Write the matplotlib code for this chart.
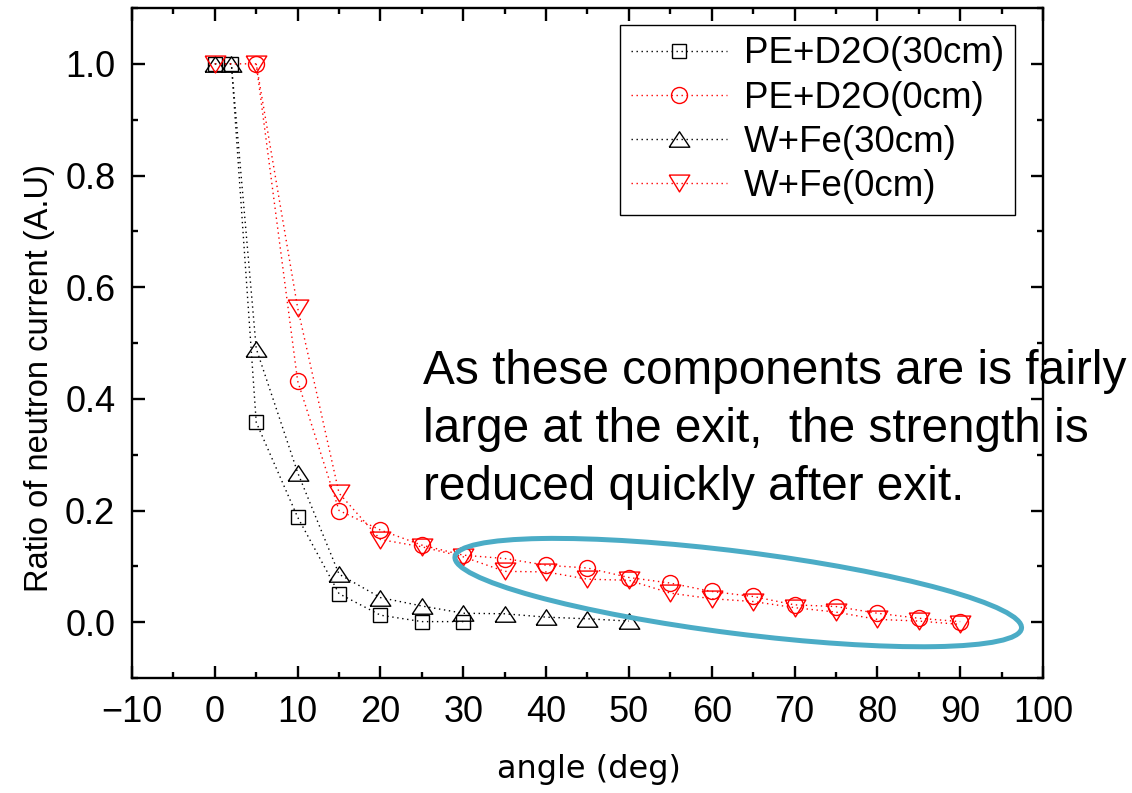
import matplotlib
matplotlib.use("Agg")
import matplotlib.pyplot as plt
import matplotlib.transforms as mtransforms
from matplotlib.patches import Ellipse
from matplotlib.ticker import MultipleLocator

# data
pe30_x = [0, 2, 5, 10, 15, 20, 25, 30]
pe30_y = [1.0, 1.0, 0.358, 0.188, 0.051, 0.0125, 0.001, 0.001]

pe0_x = [5, 10, 15, 20, 25, 30, 35, 40, 45, 50, 55, 60, 65, 70, 75, 80, 85, 90]
pe0_y = [1.0, 0.432, 0.200, 0.165, 0.138, 0.120, 0.114, 0.102, 0.097, 0.080,
         0.070, 0.055, 0.046, 0.031, 0.028, 0.016, 0.007, 0.001]

wfe30_x = [0, 2, 5, 10, 15, 20, 25, 30, 35, 40, 45, 50]
wfe30_y = [1.0, 1.0, 0.490, 0.268, 0.086, 0.044, 0.029, 0.016, 0.015, 0.009,
           0.006, 0.002]

wfe0_x = [0, 5, 10, 15, 20, 25, 30, 35, 40, 45, 50, 55, 60, 65, 70, 75, 80, 85, 90]
wfe0_y = [1.0, 1.0, 0.563, 0.231, 0.148, 0.135, 0.117, 0.091, 0.090, 0.077,
          0.075, 0.052, 0.042, 0.037, 0.026, 0.018, 0.005, 0.002, -0.004]

labels = ["PE+D2O(30cm)", "PE+D2O(0cm)", "W+Fe(30cm)", "W+Fe(0cm)"]
note = ("As these components are is fairly\n"
        "large at the exit,  the strength is\n"
        "reduced quickly after exit.")

# highlighted region (centre in data units, size in pixels)
ell_center = (63.2, 0.053)
ell_size = (571, 82)
ell_angle = -7.2

plt.rcParams['font.family'] = ['Liberation Sans', 'DejaVu Sans']

fig = plt.figure(figsize=(11.32, 7.93), dpi=100)
ax = fig.add_axes([132 / 1132, 1 - 678 / 793, 911 / 1132, 670 / 793])

up_tri = [(-1, -0.75), (1, -0.75), (0, 0.75), (-1, -0.75)]
down_tri = [(-1, 0.82), (1, 0.82), (0, -0.82), (-1, 0.82)]
dots = (0, (1, 2.6))

common = dict(linestyle=dots, lw=1.0, mfc='none', mew=1.0)
ax.plot(pe30_x, pe30_y, color='black', marker='s', ms=10, label=labels[0], **common)
ax.plot(pe0_x, pe0_y, color='red', marker='o', ms=11.5, label=labels[1], **common)
ax.plot(wfe30_x, wfe30_y, color='black', marker=up_tri, ms=14.8, label=labels[2], **common)
ax.plot(wfe0_x, wfe0_y, color='red', marker=down_tri, ms=14.8, label=labels[3], **common)

ax.set_xlim(-10, 100)
ax.set_ylim(-0.1, 1.1)
ax.xaxis.set_major_locator(MultipleLocator(10))
ax.xaxis.set_minor_locator(MultipleLocator(5))
ax.yaxis.set_major_locator(MultipleLocator(0.2))
ax.yaxis.set_minor_locator(MultipleLocator(0.1))
ax.tick_params(which='both', direction='in', top=True, right=True, width=1.7,
               labelsize=26, pad=12)
ax.tick_params(which='major', length=9)
ax.tick_params(which='minor', length=4.5)
ax.xaxis.set_major_formatter(plt.FuncFormatter(
    lambda v, p: ('\u2212%d' % -v) if v < 0 else '%d' % v))
for s in ax.spines.values():
    s.set_linewidth(1.7)

ax.set_xlabel("angle (deg)", fontsize=23, family='DejaVu Sans')
ax.xaxis.set_label_coords(0.502, -0.113)
ax.set_ylabel("Ratio of neutron current (A.U)", fontsize=23.5)
ax.yaxis.set_label_coords(-0.085, 0.448)

leg = ax.legend(loc='upper right', bbox_to_anchor=(0.969, 0.974), borderaxespad=0,
                fontsize=26.5, handlelength=2.6, handletextpad=0.45,
                borderpad=0.3, labelspacing=0.25, fancybox=False, framealpha=1)
leg.get_frame().set_edgecolor('black')
leg.get_frame().set_linewidth(1.0)

ax.text(25.1, 0.489, note, fontsize=34.4, ha='left', va='top', linespacing=1.37,
        clip_on=False, zorder=2)

ell = Ellipse((0, 0), ell_size[0], ell_size[1], angle=ell_angle, fill=False,
              edgecolor='#4BACC6', lw=3.6, zorder=4,
              transform=mtransforms.ScaledTranslation(ell_center[0], ell_center[1],
                                                      ax.transData))
ax.add_patch(ell)

fig.savefig("out.png", dpi=100)
